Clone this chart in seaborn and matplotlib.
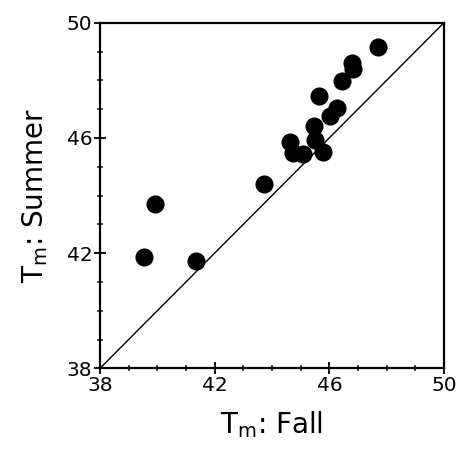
import matplotlib
matplotlib.use("Agg")
import matplotlib.pyplot as plt
from matplotlib.ticker import MultipleLocator
import seaborn as sns
import pandas as pd

fall = [47.69, 46.80, 46.84, 46.43, 45.65, 46.26, 46.02, 45.48, 44.63, 45.51,
        44.74, 45.09, 45.77, 43.72, 39.92, 39.55, 41.35]
summer = [49.17, 48.61, 48.38, 47.99, 47.46, 47.03, 46.76, 46.43, 45.87, 45.93,
          45.47, 45.44, 45.52, 44.39, 43.69, 41.88, 41.73]
ticks = [38, 42, 46, 50]
tick_labels = ["38", "42", "46", "50"]

sns.set_style("white")
plt.rcParams['font.family'] = ['DejaVu Sans']

df = pd.DataFrame({"fall": fall, "summer": summer})

fig = plt.figure(figsize=(4.59, 4.49), dpi=100)
ax = fig.add_axes([100/459, 1-368.3/449, 344/459, 345.6/449])

ax.plot([38, 50], [38, 50], color="black", lw=1.0, zorder=1)
sns.scatterplot(data=df, x="fall", y="summer", ax=ax, color="black",
                s=170, edgecolor="black", linewidth=0, zorder=3, legend=False)

ax.set_xlim(38, 50)
ax.set_ylim(38, 50)
ax.set_xticks(ticks)
ax.set_xticklabels(tick_labels)
ax.set_yticks(ticks)
ax.set_yticklabels(tick_labels)
ax.xaxis.set_minor_locator(MultipleLocator(1))
ax.yaxis.set_minor_locator(MultipleLocator(1))
ax.tick_params(which="major", direction="inout", length=9, width=1.3,
               labelsize=14.5, colors="black", labelcolor="black",
               bottom=True, left=True, pad=1)
ax.tick_params(which="minor", direction="inout", length=5, width=1.2,
               bottom=True, left=True)
for sp in ax.spines.values():
    sp.set_linewidth(1.6)
    sp.set_color("black")

ax.set_xlabel(r"T$_\mathregular{m}$: Fall", fontsize=20, labelpad=10, color="black")
ax.set_ylabel(r"T$_\mathregular{m}$: Summer", fontsize=20, labelpad=12, color="black")

fig.savefig("out.png", dpi=100)
